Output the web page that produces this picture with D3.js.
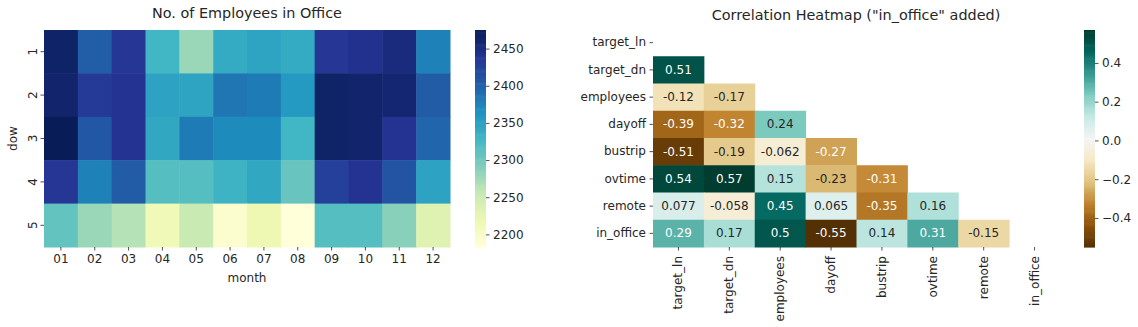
<!DOCTYPE html>
<html><head><meta charset="utf-8">
<script src="https://cdn.jsdelivr.net/npm/d3@7"></script>
<style>
body{margin:0;background:#fff;}
text{font-family:"DejaVu Sans",sans-serif;fill:#262626;}
</style></head>
<body>
<svg id="chart" width="1138" height="327"></svg>
<script>
// ---------- data: left heatmap ----------
const months = ["01","02","03","04","05","06","07","08","09","10","11","12"];
const dows = ["1","2","3","4","5"];
const dow1 = [2466,2402,2437,2329,2279,2341,2347,2341,2437,2443,2452,2376];
const dow2 = [2463,2434,2440,2349,2347,2385,2381,2358,2466,2463,2460,2405];
const dow3 = [2475,2408,2440,2344,2381,2370,2370,2329,2466,2463,2440,2396];
const dow4 = [2437,2376,2405,2317,2317,2332,2344,2306,2428,2440,2411,2349];
const dow5 = [2309,2279,2265,2212,2253,2192,2218,2183,2317,2317,2288,2233];
const employeeTicks = [2450,2400,2350,2300,2250,2200];

// ---------- data: correlation heatmap ----------
const vars = ["target_ln","target_dn","employees","dayoff","bustrip","ovtime","remote","in_office"];
const corr_target_dn = [0.51];
const corr_employees = [-0.12,-0.17];
const corr_dayoff = [-0.39,-0.32,0.24];
const corr_bustrip = [-0.51,-0.19,-0.062,-0.27];
const corr_ovtime = [0.54,0.57,0.15,-0.23,-0.31];
const corr_remote = [0.077,-0.058,0.45,0.065,-0.35,0.16];
const corr_in_office = [0.29,0.17,0.5,-0.55,0.14,0.31,-0.15];
const corrTicks = [0.4,0.2,0.0,-0.2,-0.4];

const ylgnbu = ["#ffffd9","#edf8b1","#c7e9b4","#7fcdbb","#41b6c4","#1d91c0","#225ea8","#253494","#081d58"];
const brbg = ["#543005","#8c510a","#bf812d","#dfc27d","#f6e8c3","#f5f5f5","#c7eae5","#80cdc1","#35978f","#01665e","#003c30"];

const svg = d3.select("#chart");
const FS = 12;

function lum(c){
  const r = d3.rgb(c);
  const f = v => { v/=255; return v<=0.03928 ? v/12.92 : Math.pow((v+0.055)/1.055,2.4); };
  return 0.2126*f(r.r)+0.7152*f(r.g)+0.0722*f(r.b);
}
function makeCmap(colors, vmin, vmax){
  const dom = colors.map((_,i)=> vmin + (vmax-vmin)*i/(colors.length-1));
  return d3.scaleLinear().domain(dom).range(colors).interpolate(d3.interpolateRgb).clamp(true);
}
function colorbar(x0, y0, w, h, vmin, vmax, colors, ticks, fmt){
  const g = svg.append("g");
  const n = 200;
  const cm = makeCmap(colors, vmin, vmax);
  const ys = d3.scaleLinear().domain([vmin, vmax]).range([y0+h, y0]);
  for(let i=0;i<n;i++){
    const v0 = vmin + (vmax-vmin)*i/n, v1 = vmin + (vmax-vmin)*(i+1)/n;
    g.append("rect").attr("x",x0).attr("width",w)
      .attr("y",ys(v1)).attr("height",ys(v0)-ys(v1)+0.6)
      .attr("fill",cm((v0+v1)/2));
  }
  const ax = d3.axisRight(ys).tickValues(ticks).tickSize(3.5).tickPadding(3.5).tickFormat(fmt);
  const a = g.append("g").attr("transform",`translate(${x0+w},0)`).call(ax);
  a.select(".domain").remove();
  a.selectAll(".tick line").attr("stroke","#262626").attr("stroke-width",0.8);
  a.selectAll(".tick text").attr("font-size",FS).attr("font-family","DejaVu Sans").attr("fill","#262626");
}

// ---------- left heatmap ----------
(function(){
  const L = {x0:44, x1:450, y0:30, y1:247};
  const rows = [dow1,dow2,dow3,dow4,dow5];
  const all = rows.flat();
  const vmin = d3.min(all), vmax = d3.max(all);
  const cm = makeCmap(ylgnbu, vmin, vmax);
  const x = d3.scaleBand().domain(months).range([L.x0, L.x1]);
  const y = d3.scaleBand().domain(dows).range([L.y0, L.y1]);
  const g = svg.append("g");
  rows.forEach((r,i)=>r.forEach((v,j)=>{
    g.append("rect").attr("x",x(months[j])).attr("y",y(dows[i]))
      .attr("width",x.bandwidth()+0.5).attr("height",y.bandwidth()+0.5).attr("fill",cm(v));
  }));
  const xa = g.append("g").attr("transform",`translate(0,${L.y1})`)
    .call(d3.axisBottom(x).tickSize(3.5).tickPadding(3.5));
  const ya = g.append("g").attr("transform",`translate(${L.x0},0)`)
    .call(d3.axisLeft(y).tickSize(3.5).tickPadding(3.5));
  [xa,ya].forEach(a=>{
    a.select(".domain").remove();
    a.selectAll(".tick line").attr("stroke","#262626").attr("stroke-width",0.8);
    a.selectAll(".tick text").attr("font-size",FS).attr("font-family","DejaVu Sans").attr("fill","#262626");
  });
  ya.selectAll(".tick text").attr("text-anchor","middle").attr("dy",null).attr("x",null)
    .attr("dominant-baseline","central")
    .attr("transform","translate(-11,0) rotate(-90)");
  g.append("text").attr("x",(L.x0+L.x1)/2).attr("y",282).attr("text-anchor","middle")
    .attr("font-size",FS).text("month");
  g.append("text").attr("transform",`translate(17,${(L.y0+L.y1)/2}) rotate(-90)`)
    .attr("text-anchor","middle").attr("font-size",FS).text("dow");
  g.append("text").attr("x",(L.x0+L.x1)/2).attr("y",18).attr("text-anchor","middle")
    .attr("font-size",14.4).text("No. of Employees in Office");
  colorbar(475, L.y0, 11, L.y1-L.y0, vmin, vmax, ylgnbu, employeeTicks, d3.format("d"));
})();

// ---------- right heatmap ----------
(function(){
  const R = {x0:653, x1:1060, y0:29, y1:247};
  const lower = [[],corr_target_dn,corr_employees,corr_dayoff,corr_bustrip,corr_ovtime,corr_remote,corr_in_office];
  const all = lower.flat();
  const vmin = d3.min(all), vmax = d3.max(all);
  const cm = makeCmap(brbg, vmin, vmax);
  const x = d3.scaleBand().domain(vars).range([R.x0, R.x1]);
  const y = d3.scaleBand().domain(vars).range([R.y0, R.y1]);
  const g = svg.append("g");
  const fmt = v => { let s = String(+v.toPrecision(2)); return s.replace("-", "-"); };
  lower.forEach((r,i)=>r.forEach((v,j)=>{
    const c = cm(v);
    g.append("rect").attr("x",x(vars[j])).attr("y",y(vars[i]))
      .attr("width",x.bandwidth()+0.5).attr("height",y.bandwidth()+0.5).attr("fill",c);
    g.append("text").attr("x",x(vars[j])+x.bandwidth()/2).attr("y",y(vars[i])+y.bandwidth()/2)
      .attr("text-anchor","middle").attr("dominant-baseline","central")
      .attr("font-size",FS).style("fill", lum(c) > 0.408 ? "#262626" : "#ffffff")
      .text(fmt(v));
  }));
  const xa = g.append("g").attr("transform",`translate(0,${R.y1})`)
    .call(d3.axisBottom(x).tickSize(3.5).tickPadding(3.5));
  const ya = g.append("g").attr("transform",`translate(${R.x0},0)`)
    .call(d3.axisLeft(y).tickSize(3.5).tickPadding(3.5));
  [xa,ya].forEach(a=>{
    a.select(".domain").remove();
    a.selectAll(".tick line").attr("stroke","#262626").attr("stroke-width",0.8);
    a.selectAll(".tick text").attr("font-size",FS).attr("font-family","DejaVu Sans").attr("fill","#262626");
  });
  xa.selectAll(".tick text").attr("text-anchor","end").attr("dy",null).attr("y",null)
    .attr("dominant-baseline","central")
    .attr("transform","translate(0,9) rotate(-90)");
  g.append("text").attr("x",856).attr("y",20).attr("text-anchor","middle")
    .attr("font-size",14.4).text('Correlation Heatmap ("in_office" added)');
  colorbar(1084, 30, 11, 217, vmin, vmax, brbg, corrTicks, d3.format(".1f"));
})();
</script>
</body></html>
